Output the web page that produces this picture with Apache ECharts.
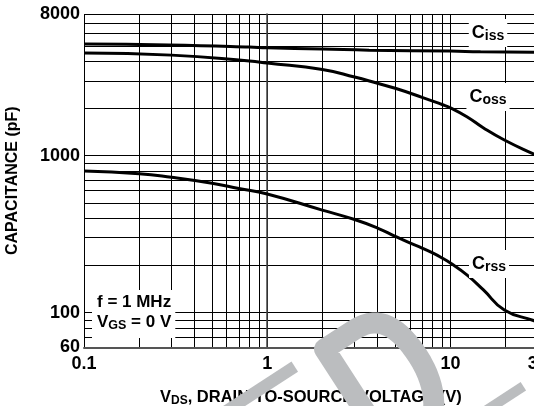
<!DOCTYPE html>
<html><head><meta charset="utf-8">
<script src="https://cdn.jsdelivr.net/npm/echarts@6/dist/echarts.min.js"></script>
<style>html,body{margin:0;padding:0;background:#fff}#c{width:534px;height:406px}</style>
</head><body><div id="c"></div>
<script>
// ---- data ----
const cissV = [0.1, 0.29, 0.8, 1, 2, 3.6, 10, 14.6, 28.4, 30];
const cissC = [5150, 5076, 4930, 4870, 4786, 4700, 4640, 4600, 4570, 4560];

const cossV = [0.1, 0.3, 0.8, 1, 2, 3, 4, 5, 7, 9, 10, 12.3, 15.1, 19.7, 28.4, 30];
const cossC = [4513, 4375, 4014, 3898, 3543, 3174, 2893, 2689, 2356, 2120, 2020, 1773, 1508, 1259, 1025, 1000];

const crssV = [0.1, 0.2, 0.3, 0.5, 0.7, 1, 2, 3, 4, 5, 6, 7, 8, 9, 10, 12.3, 15.1, 19.7, 28.4, 30];
const crssC = [799, 768, 728, 667, 618, 570, 450, 392, 346, 306, 278, 258, 240, 223, 207, 174, 140, 104, 89, 87];

// axis ticks / grid lines / labels
const xGridValues = [0.1,0.2,0.3,0.4,0.5,0.6,0.7,0.8,0.9,1,2,3,4,5,6,7,8,9,10,20,30];
const yGridValues = [60,70,80,90,100,200,300,400,500,600,700,800,900,1000,2000,3000,4000,5000,6000,7000,8000];
const xTickLabels = [0.1, 1, 10, 30];
const yTickLabels = [60, 100, 1000, 8000];

const L = Math.log10;
const FONT = '"Liberation Sans", Arial, Helvetica, sans-serif';
const toPts = (xs, ys) => xs.map((v, i) => [L(v), L(ys[i])]);

const chart = echarts.init(document.getElementById('c'), null, {renderer: 'canvas'});

const lineSeries = (name, xs, ys) => ({
  name, type: 'line', data: toPts(xs, ys), smooth: 0.5, symbol: 'none',
  lineStyle: {color: '#000', width: 3}, z: 5, silent: true
});

const sub = {fontFamily: FONT, fontWeight: 'bold', fontSize: 14, fill: '#000', lineHeight: 20, padding: [7, 0, 0, 0]};
const big = {fontFamily: FONT, fontWeight: 'bold', fontSize: 18, fill: '#000', lineHeight: 20};
const curveLabel = (x, y, s) => ({type: 'text', x, y, z: 10, style: {
  text: '{c|C}{s|' + s + '}', align: 'center', verticalAlign: 'middle',
  backgroundColor: '#fff', padding: [4, 3, 4, 3], rich: {c: big, s: sub}
}});

// ---- decorative grey watermark fragments (page overlay, not data) ----
const WM = '#bbbdbf';
const ca = Math.cos(33 * Math.PI / 180), sa = Math.sin(33 * Math.PI / 180);
const T = (x, y) => [310 + ca * x + sa * y, 346 - sa * x + ca * y];
function bez(p0, p1, p2, p3, n) {
  const out = [];
  for (let i = 1; i <= n; i++) {
    const t = i / n, u = 1 - t;
    out.push([u*u*u*p0[0] + 3*u*u*t*p1[0] + 3*u*t*t*p2[0] + t*t*t*p3[0],
              u*u*u*p0[1] + 3*u*u*t*p1[1] + 3*u*t*t*p2[1] + t*t*t*p3[1]]);
  }
  return out;
}
const dLocal = [[10.5, 230], [10.5, 10.5], [46, 10.5]]
  .concat(bez([46, 10.5], [76, 10.5], [85, 34], [85, 68], 16))
  .concat(bez([85, 68], [85, 103], [68, 136], [35, 142], 16))
  .concat([[10.5, 142]]);
const wmD = dLocal.map(p => T(p[0], p[1]));
const wmBarA = [T(-160, 9), T(-24, 9)];
const wmBarB = [T(90, 150), T(157, 150)];

chart.setOption({
  animation: false,
  backgroundColor: '#fff',
  grid: {left: 84, top: 14, right: -3.8, bottom: 58.6, containLabel: false, outerBoundsMode: 'none'},
  xAxis: {
    type: 'value', min: L(0.1), max: L(30),
    axisLine: {show: true, lineStyle: {color: '#555', width: 2}},
    axisTick: {show: false, customValues: xGridValues.map(L)},
    splitLine: {show: true, lineStyle: {color: '#000', width: 1}},
    axisLabel: {
      customValues: xTickLabels.map(L), margin: 8,
      fontFamily: FONT, fontWeight: 'bold', fontSize: 18, color: '#000',
      formatter: v => { const r = Math.pow(10, v); return r < 1 ? r.toFixed(1) : String(Math.round(r)); }
    },
    name: '{a|V}{s|DS}{a|, DRAIN-TO-SOURCE VOLTAGE (V)}',
    nameLocation: 'middle', nameGap: 40,
    nameTextStyle: {
      rich: {
        a: {fontFamily: FONT, fontWeight: 'bold', fontSize: 16.5, color: '#000', lineHeight: 20},
        s: {fontFamily: FONT, fontWeight: 'bold', fontSize: 12, color: '#000', lineHeight: 20, padding: [7, 0, 0, 0]}
      }
    }
  },
  yAxis: {
    type: 'value', min: L(60), max: L(8000),
    axisLine: {show: true, lineStyle: {color: '#444', width: 1.5}},
    axisTick: {show: false, customValues: yGridValues.map(L)},
    splitLine: {show: true, lineStyle: {color: '#000', width: 1}},
    axisLabel: {
      customValues: yTickLabels.map(L), margin: 4,
      fontFamily: FONT, fontWeight: 'bold', fontSize: 18, color: '#000',
      formatter: v => String(Math.round(Math.pow(10, v)))
    },
    name: 'CAPACITANCE (pF)',
    nameLocation: 'middle', nameRotate: 90, nameGap: 63,
    nameTextStyle: {fontFamily: FONT, fontWeight: 'bold', fontSize: 16, color: '#000'}
  },
  series: [
    lineSeries('Ciss', cissV, cissC),
    lineSeries('Coss', cossV, cossC),
    lineSeries('Crss', crssV, crssC)
  ],
  graphic: [
    curveLabel(488, 33, 'iss'),
    curveLabel(488, 97, 'oss'),
    curveLabel(489, 264, 'rss'),
    {type: 'text', x: 92, y: 290, z: 10, style: {
      text: '{t|f = 1 MHz}\n{t|V}{s|GS}{t| = 0 V}', align: 'left', verticalAlign: 'top',
      backgroundColor: '#fff', padding: [2, 4, 6, 5],
      rich: {t: {fontFamily: FONT, fontWeight: 'bold', fontSize: 17, fill: '#000', lineHeight: 20},
             s: {fontFamily: FONT, fontWeight: 'bold', fontSize: 12.5, fill: '#000', lineHeight: 20, padding: [7, 0, 0, 0]}}
    }},
    {type: 'polyline', z: 200, silent: true, shape: {points: wmD},
     style: {fill: null, stroke: WM, lineWidth: 21, lineJoin: 'round', lineCap: 'butt'}},
    {type: 'polyline', z: 200, silent: true, shape: {points: wmBarA},
     style: {fill: null, stroke: WM, lineWidth: 12, lineCap: 'butt'}},
    {type: 'polyline', z: 200, silent: true, shape: {points: wmBarB},
     style: {fill: null, stroke: WM, lineWidth: 10, lineCap: 'butt'}}
  ]
});
</script></body></html>
